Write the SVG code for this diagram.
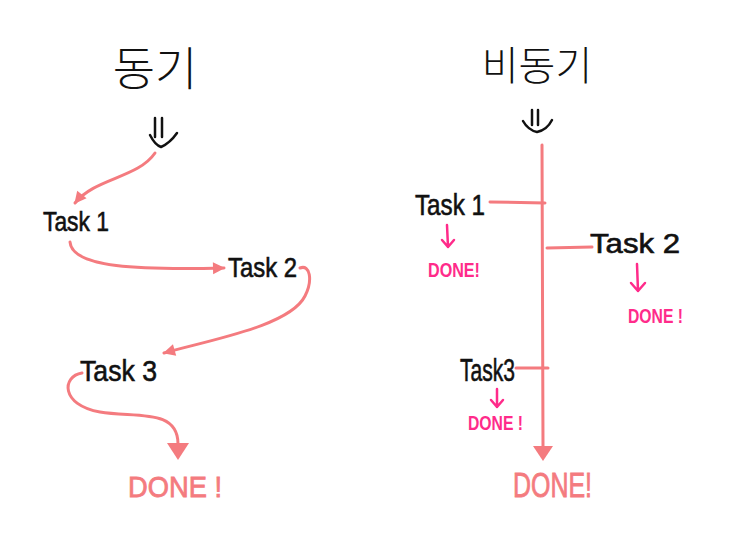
<svg xmlns="http://www.w3.org/2000/svg" width="748" height="533" viewBox="0 0 748 533">
<style>
.title{font-family:"Noto Sans CJK KR","Noto Sans",sans-serif;font-weight:300;fill:#111;text-anchor:middle}
.task{font-family:"Liberation Sans","DejaVu Sans",sans-serif;fill:#111;stroke:#111;stroke-width:0.6}
.done{font-family:"Liberation Sans","DejaVu Sans",sans-serif;fill:#F47B7F;stroke:#F47B7F;stroke-width:0.8}
.sdone{font-family:"Liberation Sans","DejaVu Sans",sans-serif;font-weight:bold;fill:#FF2B8A}
.conn{fill:none;stroke:#F47B7F;stroke-width:3;stroke-linecap:round;stroke-linejoin:round}
.parr{fill:none;stroke:#FF2B8A;stroke-width:2.5;stroke-linecap:round;stroke-linejoin:round}
.dbl{fill:none;stroke:#111;stroke-width:2.5;stroke-linecap:round;stroke-linejoin:round}
.head{fill:#F47B7F}
</style>
<defs>
<marker id="ah" markerUnits="userSpaceOnUse" markerWidth="16" markerHeight="16" viewBox="0 0 16 16" refX="13" refY="8" orient="auto">
<path d="M2,2 L14,8 L2,14 Z" fill="#F47B7F"/>
</marker>
</defs>
<rect width="748" height="533" fill="#fff"/>

<g id="title-sync"><text class="title" x="155" y="85" font-size="46">동기</text></g>
<g id="title-async"><text class="title" x="537" y="80" font-size="40">비동기</text></g>

<g id="start-sync"><path class="dbl" d="M155,118 L155,137 M162,118 L162,137 M150,135 Q155,145 161,147 Q170,143 177,133"/></g>
<g id="start-async"><path class="dbl" d="M532,110 L532,125 M538,110 L538,125 M523,121 Q528,130 537,132 Q547,130 552,120"/></g>

<g id="task1-sync"><text class="task" x="43" y="231" font-size="28" textLength="66" lengthAdjust="spacingAndGlyphs">Task 1</text></g>
<g id="task2-sync"><text class="task" x="228" y="277" font-size="28" textLength="69" lengthAdjust="spacingAndGlyphs">Task 2</text></g>
<g id="task3-sync"><text class="task" x="80" y="381" font-size="30" textLength="77" lengthAdjust="spacingAndGlyphs">Task 3</text></g>
<g id="done-sync"><text class="done" x="128" y="497" font-size="30" textLength="94" lengthAdjust="spacingAndGlyphs">DONE !</text></g>

<g id="task1-async"><text class="task" x="415" y="215" font-size="29" textLength="70" lengthAdjust="spacingAndGlyphs">Task 1</text>
<path class="parr" d="M447,225 L448,247 M442,240 L448,247 L454,240"/>
<text class="sdone" x="428" y="277" font-size="21" textLength="52" lengthAdjust="spacingAndGlyphs">DONE!</text></g>
<g id="task2-async"><text class="task" x="590" y="253" font-size="27" textLength="90" lengthAdjust="spacingAndGlyphs">Task 2</text>
<path class="parr" d="M637,264 L638,291 M631,283 L638,291 L645,283"/>
<text class="sdone" x="628" y="323" font-size="20" textLength="55" lengthAdjust="spacingAndGlyphs">DONE !</text></g>
<g id="task3-async"><text class="task" x="460" y="381" font-size="32" textLength="55" lengthAdjust="spacingAndGlyphs">Task3</text>
<path class="parr" d="M497,389 L497,407 M491,400 L497,407 L503,400"/>
<text class="sdone" x="468" y="430" font-size="20" textLength="55" lengthAdjust="spacingAndGlyphs">DONE !</text></g>
<g id="done-async"><text class="done" x="513" y="497" font-size="35" textLength="79" lengthAdjust="spacingAndGlyphs">DONE!</text></g>

<g id="connectors">
<path class="conn" d="M155,153 C138,178 95,178 75,203" marker-end="url(#ah)"/>
<path class="conn" d="M70,242 C72,268 140,270 224,268" marker-end="url(#ah)"/>
<path class="conn" d="M300,268 C310,264 313,280 305,296 C290,326 210,340 164,353" marker-end="url(#ah)"/>
<path class="conn" d="M82,373 C62,376 60,405 100,412 C135,418 178,408 178,444"/>
<polygon class="head" points="167,443 189,443 178,460"/>
<path class="conn" d="M542,145 L543,446"/>
<polygon class="head" points="533,446 553,446 543,461"/>
<path class="conn" d="M490,202 L545,203"/>
<path class="conn" d="M547,248 L592,247"/>
<path class="conn" d="M516,368 L548,368"/>
</g>
</svg>
